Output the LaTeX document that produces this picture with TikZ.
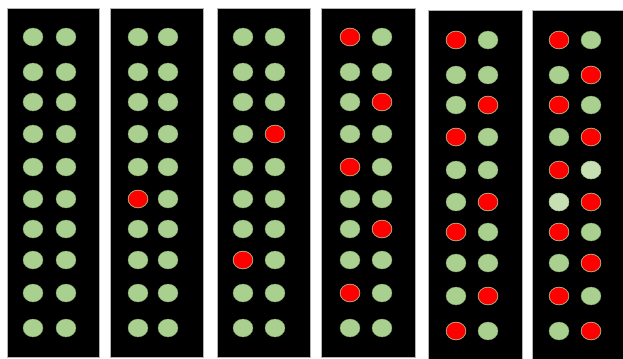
\documentclass[tikz,border=0pt]{standalone}
\usepackage{tikz}

\definecolor{ledgreen}{RGB}{169,208,142}
\definecolor{ledpale}{RGB}{198,224,180}
\definecolor{ledred}{RGB}{255,0,0}
\definecolor{ledrim}{RGB}{185,165,120}

\begin{document}
\begin{tikzpicture}[
    x=0.5mm, y=-0.5mm,
    pnl/.style={fill=black, draw=gray!60, line width=0.6pt},
    grn/.style={fill=ledgreen, draw=ledgreen!75!black, line width=0.4pt},
    pal/.style={fill=ledpale, draw=ledpale!75!black, line width=0.4pt},
    rd/.style={fill=ledred, draw=ledrim, line width=0.9pt},
]
\fill[white] (0,0) rectangle (623,358);
\useasboundingbox (0,0) rectangle (623,358);

% Panels
\draw[pnl] (7,8)    rectangle (99,357);
\draw[pnl] (110,8)  rectangle (203,357);
\draw[pnl] (217,8)  rectangle (310,357);
\draw[pnl] (321,8)  rectangle (415,357);
\draw[pnl] (428,10) rectangle (522,360);
\draw[pnl] (532,10) rectangle (625,360);

% All LEDs green
\foreach \xa/\xb/\dy in {33/66/0, 138/168/0, 243/275/0, 350/382/0, 456/488/3, 559/591/3}
  \foreach \y in {37,72,102,134,167,199,229,260,293,328} {
    \path[grn] (\xa,\y+\dy) ellipse [x radius=5mm, y radius=4.5mm];
    \path[grn] (\xb,\y+\dy) ellipse [x radius=5mm, y radius=4.5mm];
  }

% Pale LEDs (panel 6)
\foreach \x/\y in {591/170, 559/202}
  \path[pal] (\x,\y) ellipse [x radius=5mm, y radius=4.5mm];

% Red LEDs
\foreach \x/\y in {138/199,
                   275/134, 243/260,
                   350/37, 382/102, 350/167, 382/229, 350/293,
                   456/40, 488/105, 456/137, 488/202, 456/232, 488/296, 456/331,
                   559/40, 591/75, 559/105, 591/137, 559/170, 591/202, 559/232, 591/263, 559/296, 591/331}
  \path[rd] (\x,\y) ellipse [x radius=4.9mm, y radius=4.4mm];
\end{tikzpicture}
\end{document}
